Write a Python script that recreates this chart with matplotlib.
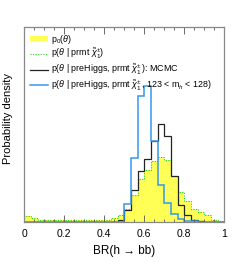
import numpy as np
import matplotlib
matplotlib.use('Agg')
from matplotlib import pyplot as plt
from matplotlib.ticker import MultipleLocator, FuncFormatter

plt.rcParams['font.family'] = ['Liberation Sans', 'DejaVu Sans']
plt.rcParams['mathtext.fontset'] = 'custom'
plt.rcParams['mathtext.rm'] = 'Liberation Sans'
plt.rcParams['mathtext.it'] = 'Liberation Sans:italic'

# 30 bins between 0 and 1
edges = np.linspace(0, 1, 31)

prior = [0.36, 0.24, 0.15, 0.15, 0.15, 0.15, 0.15, 0.15, 0.15, 0.15,
         0.15, 0.15, 0.15, 0.24, 0.45, 0.78, 1.65, 2.58, 3.12, 3.66,
         3.90, 3.75, 2.76, 1.80, 1.29, 0.81, 0.60, 0.42, 0.15, 0.06]
prmt = [0.36, 0.24, 0.15, 0.15, 0.15, 0.15, 0.15, 0.15, 0.15, 0.15,
        0.15, 0.15, 0.15, 0.24, 0.45, 0.78, 1.65, 2.58, 3.12, 3.66,
        3.90, 3.75, 2.76, 1.80, 1.29, 0.81, 0.60, 0.42, 0.15, 0.06]
mcmc = [0, 0, 0, 0, 0, 0, 0, 0, 0, 0,
        0, 0, 0, 0, 0.12, 0.75, 1.92, 3.06, 3.78, 4.89,
        5.88, 5.16, 2.76, 1.05, 0.45, 0.15, 0.06, 0.03, 0.02, 0]
mh = [0, 0, 0, 0, 0, 0, 0, 0, 0, 0,
      0, 0, 0, 0, 0.03, 1.08, 3.84, 7.56, 8.16, 4.89,
      2.25, 1.14, 0.51, 0.18, 0.09, 0.06, 0.03, 0, 0, 0]

labels = [r'p$_0$($\theta$)',
          r'p($\theta$ | prmt $\tilde{\chi}^{\pm}_{1}$)',
          r'p($\theta$ | preHiggs, prmt $\tilde{\chi}^{\pm}_{1}\,$): MCMC',
          r'p($\theta$ | preHiggs, prmt $\tilde{\chi}^{\pm}_{1}\,$, 123 < m$_h$ < 128)']

fig = plt.figure(figsize=(2.49, 2.62), dpi=100)
ax = fig.add_axes([0.0976, 0.1508, 0.8032, 0.7462])

ax.stairs(prior, edges, fill=True, color='#ffff55', label=labels[0])
ax.stairs(prmt, edges, color='#22cc22', lw=0.8, ls=(0, (1, 1.3)), label=labels[1])
ax.stairs(mcmc, edges, color='#222222', lw=0.9, label=labels[2])
ax.stairs(mh, edges, color='#3399ee', lw=1.1, label=labels[3])

ax.set_xlim(0, 1)
ax.set_ylim(0, 11.73)
ax.xaxis.set_major_locator(MultipleLocator(0.2))
ax.xaxis.set_minor_locator(MultipleLocator(0.05))
ax.xaxis.set_major_formatter(FuncFormatter(lambda v, p: f'{v:.1f}'.rstrip('0').rstrip('.') if abs(v) > 1e-9 else '0'))
ax.tick_params(axis='x', which='both', direction='in', top=True, labelsize=7.5,
               color='#555555', pad=5)
ax.tick_params(axis='x', which='major', length=5, width=0.6)
ax.tick_params(axis='x', which='minor', length=2.5, width=0.6)
ax.set_yticks([])
for s in ax.spines.values():
    s.set_color('#888888')
    s.set_linewidth(0.9)

ax.set_xlabel('BR(h \u2192 bb)', fontsize=8.5, labelpad=4)
ax.set_ylabel('Probability density', fontsize=8)
ax.yaxis.set_label_coords(-0.055, 0.53)

ax.legend(loc='upper left', bbox_to_anchor=(0.0, 1.0), frameon=False,
          fontsize=6.4, handlelength=2.0, handleheight=0.55, labelspacing=0.15,
          handletextpad=0.3, borderaxespad=0.25)

plt.savefig('out.png', dpi=100)
